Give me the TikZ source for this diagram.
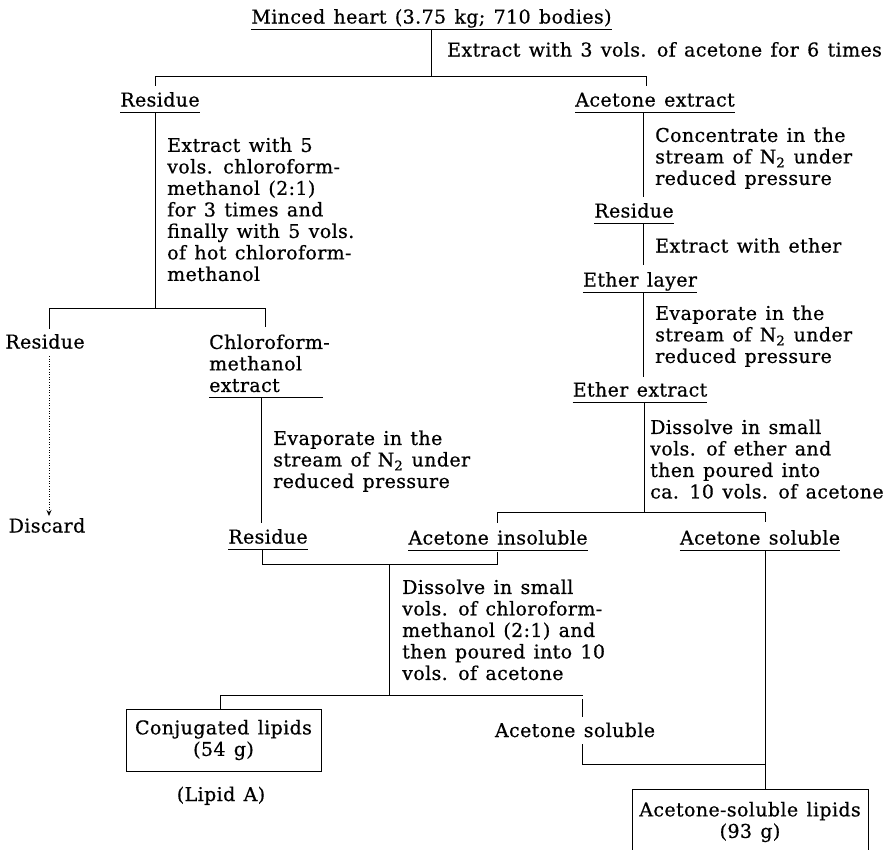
\documentclass[tikz,border=0pt]{standalone}
\usepackage{fontspec}
\setmainfont{DejaVu Serif}[LetterSpace=2,WordSpace=1.3,FakeBold=0.6]
\usetikzlibrary{arrows.meta}
\newcommand\fs{\fontsize{19}{21.5}\selectfont}
\begin{document}
\begin{tikzpicture}[x=1pt,y=-1pt,
  lbl/.style={inner sep=0pt,font=\fs,anchor=base},
  note/.style={inner sep=0pt,font=\fs,align=left,anchor=north west},
  ln/.style={line width=0.8pt},
  dotline/.style={line width=0.8pt,dash pattern=on 1pt off 1.6pt,-{Stealth[length=6pt,width=5pt]}},
  boxnode/.style={draw,line width=0.8pt,inner sep=0pt,font=\fs,align=center}]
\useasboundingbox (0,0) rectangle (883,849);
\clip (0,0) rectangle (883,849);
% top
\node[lbl] (minced) at (431.5,23.5) {Minced heart (3.75 kg; 710 bodies)};
\draw[ln] ([yshift=-5.5pt]minced.base west) -- ([yshift=-5.5pt]minced.base east);
\node[lbl,anchor=base west] (s1) at (447,56.5) {Extract with 3 vols. of acetone for 6 times};
\coordinate (t0) at (431,30);
\coordinate (j1) at (431,76);
\coordinate (hL1) at (155,76);
\coordinate (hR1) at (646,76);
\draw[ln] (t0) -- (j1);
\draw[ln] (hL1) -- (hR1);
\draw[ln] (hL1) -- ++(0,10);
\draw[ln] (hR1) -- ++(0,10);
% left branch
\node[lbl] (res1) at (160,106.5) {Residue};
\draw[ln] ([yshift=-5.5pt]res1.base west) -- ([yshift=-5.5pt]res1.base east);
\coordinate (a1) at (155,113);
\coordinate (a2) at (155,308);
\draw[ln] (a1) -- (a2);
\node[note] (s2) at (167,137.3) {Extract with 5\\vols. chloroform-\\methanol (2:1)\\for 3 times and\\finally with 5 vols.\\of hot chloroform-\\methanol};
\coordinate (b1) at (49,308);
\coordinate (b2) at (265,308);
\draw[ln] (b1) -- (b2);
\draw[ln] (b1) -- ++(0,21);
\draw[ln] (b2) -- ++(0,19);
\node[lbl] (res2) at (45,348.5) {Residue};
\node[note] (chl) at (209,334.3) {Chloroform-\\methanol\\extract};
\coordinate (c1) at (209,397);
\coordinate (c2) at (323,397);
\draw[ln] (c1) -- (c2);
\coordinate (d1) at (49,356);
\coordinate (d2) at (49,516);
\draw[dotline] (d1) -- (d2);
\node[lbl] (disc) at (47,532.5) {Discard};
\coordinate (e1) at (261,397);
\coordinate (e2) at (261,523);
\draw[ln] (e1) -- (e2);
\node[note] (s3) at (273,430.3) {Evaporate in the\\stream of N\textsubscript{2} under\\reduced pressure};
\node[lbl] (res3) at (268,543.5) {Residue};
\draw[ln] ([yshift=-5.5pt]res3.base west) -- ([yshift=-5.5pt]res3.base east);
% right column
\node[lbl] (acext) at (655,106.5) {Acetone extract};
\draw[ln] ([yshift=-5.5pt]acext.base west) -- ([yshift=-5.5pt]acext.base east);
\coordinate (f1) at (643,113);
\coordinate (f2) at (643,197);
\draw[ln] (f1) -- (f2);
\node[note] (s4) at (655,127.3) {Concentrate in the\\stream of N\textsubscript{2} under\\reduced pressure};
\node[lbl] (res4) at (634,217.5) {Residue};
\draw[ln] ([yshift=-5.5pt]res4.base west) -- ([yshift=-5.5pt]res4.base east);
\coordinate (g1) at (643,224);
\coordinate (g2) at (643,265);
\draw[ln] (g1) -- (g2);
\node[lbl,anchor=base west] (s5) at (655,252.5) {Extract with ether};
\node[lbl] (ether) at (640,286.5) {Ether layer};
\draw[ln] ([yshift=-5.5pt]ether.base west) -- ([yshift=-5.5pt]ether.base east);
\coordinate (h1) at (643,293);
\coordinate (h2) at (643,377);
\draw[ln] (h1) -- (h2);
\node[note] (s6) at (655,305.3) {Evaporate in the\\stream of N\textsubscript{2} under\\reduced pressure};
\node[lbl] (etherext) at (640,396.5) {Ether extract};
\draw[ln] ([yshift=-5.5pt]etherext.base west) -- ([yshift=-5.5pt]etherext.base east);
\coordinate (i1) at (644,403);
\coordinate (i2) at (644,512);
\draw[ln] (i1) -- (i2);
\node[note] (s7) at (650,419.3) {Dissolve in small\\vols. of ether and\\then poured into\\ca. 10 vols. of acetone};
\coordinate (k1) at (497,512);
\coordinate (k2) at (765,512);
\draw[ln] (k1) -- (k2);
\draw[ln] (k1) -- ++(0,11);
\draw[ln] (k2) -- ++(0,10);
\node[lbl] (acinsol) at (498,544.5) {Acetone insoluble};
\draw[ln] ([yshift=-5.5pt]acinsol.base west) -- ([yshift=-5.5pt]acinsol.base east);
\node[lbl] (acsol) at (760,544.5) {Acetone soluble};
\draw[ln] ([yshift=-5.5pt]acsol.base west) -- ([yshift=-5.5pt]acsol.base east);
% merge
\coordinate (m1) at (262,550);
\coordinate (m2) at (262,564);
\coordinate (m3) at (497,564);
\coordinate (m4) at (497,552);
\draw[ln] (m1) -- (m2) -- (m3) -- (m4);
\coordinate (n1) at (389,565);
\coordinate (n2) at (389,695);
\draw[ln] (n1) -- (n2);
\node[note] (s8) at (402,579.3) {Dissolve in small\\vols. of chloroform-\\methanol (2:1) and\\then poured into 10\\vols. of acetone};
\coordinate (p1) at (220,695);
\coordinate (p2) at (583,695);
\draw[ln] (p1) -- (p2);
\node[boxnode,minimum width=195pt,minimum height=62pt] (box1) at (223.5,740) {Conjugated lipids\\(54 g)};
\draw[ln] (p1) -- (p1 |- box1.north);
\node[lbl] (lipidA) at (221,801) {(Lipid A)};
\node[lbl] (acsol2) at (575,737) {Acetone soluble};
\coordinate (q1) at (582,699);
\coordinate (q2) at (582,717);
\coordinate (q3) at (582,744);
\coordinate (q4) at (582,764);
\coordinate (q5) at (765,764);
\draw[ln] (q1) -- (q2);
\draw[ln] (q3) -- (q4) -- (q5);
\node[boxnode,minimum width=236pt,minimum height=66pt] (box2) at (750,822) {Acetone-soluble lipids\\(93 g)};
\coordinate (r1) at (765,551);
\draw[ln] (r1) -- (r1 |- box2.north);
\end{tikzpicture}
\end{document}
